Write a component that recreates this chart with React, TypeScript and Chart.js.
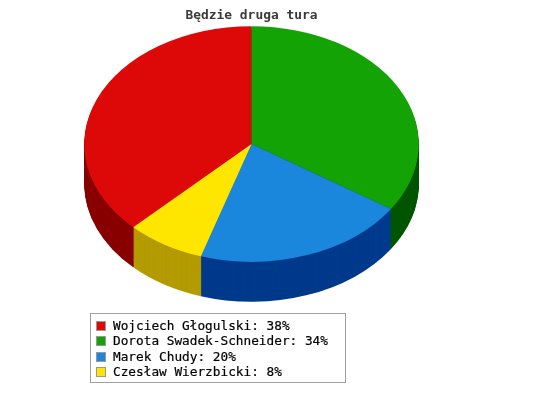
import React, { useEffect, useRef } from 'react';
import { Chart, registerables } from 'chart.js';

Chart.register(...registerables);

const chartTitle = 'Będzie druga tura';
const candidates = ['Wojciech Głogulski', 'Dorota Swadek-Schneider', 'Marek Chudy', 'Czesław Wierzbicki'];
// slice sizes
const shares = [37.5, 34.3, 20.6, 7.6];
// percentages as printed in the legend
const printedPercents = [38, 34, 20, 8];
const topColors = ['#dd0808', '#14a304', '#1a86dc', '#ffe600'];
const sideColors = ['#880000', '#005500', '#003a8c', '#b39b00'];

const FONT = '"DejaVu Sans Mono", monospace';
const SQUASH = 118 / 167.5; // tilt of the pie
const CENTER_Y = 144;
const DEPTH = 40;

// Tilts the pie and extrudes its rim downward, using the arcs Chart.js laid out
const tiltPlugin = {
  id: 'tilt',
  beforeDatasetsDraw(chart: any) {
    const { ctx } = chart;
    const arcs = chart.getDatasetMeta(0).data;
    const cy = arcs[0].y;
    const tilt = (offset: number) => {
      ctx.translate(0, CENTER_Y + offset);
      ctx.scale(1, SQUASH);
      ctx.translate(0, -cy);
    };

    // deepest layer first, so the rim colour wins nearest the top surface
    for (let d = DEPTH; d > 0; d--) {
      arcs.forEach((arc: any, i: number) => {
        ctx.save();
        tilt(d);
        ctx.beginPath();
        ctx.moveTo(arc.x, arc.y);
        ctx.arc(arc.x, arc.y, arc.outerRadius, arc.startAngle, arc.endAngle);
        ctx.closePath();
        ctx.fillStyle = sideColors[i];
        ctx.fill();
        ctx.restore();
      });
    }

    ctx.save();
    tilt(0);
  },
  afterDatasetsDraw(chart: any) {
    chart.ctx.restore();
  },
};

const App: React.FC = () => {
  const chartRef = useRef<HTMLCanvasElement>(null);

  useEffect(() => {
    document.body.style.margin = '0';
    if (!chartRef.current) return;

    const chart = new Chart(chartRef.current, {
      type: 'pie',
      data: {
        labels: candidates,
        datasets: [
          {
            data: shares,
            backgroundColor: topColors,
            borderWidth: 0,
            clip: false,
          } as any,
        ],
      },
      options: {
        responsive: false,
        animation: false,
        rotation: -(shares[0] / 100) * 360,
        layout: { padding: { left: 84, right: 121, top: 0, bottom: 45 } },
        plugins: {
          legend: { display: false },
          tooltip: { enabled: false },
          title: {
            display: true,
            text: chartTitle,
            fullSize: false,
            color: '#3a3a3a',
            font: { family: FONT, size: 12.9, weight: 'bold' },
            padding: { top: 8, bottom: 4 },
          },
        },
      },
      plugins: [tiltPlugin],
    });

    return () => {
      chart.destroy();
    };
  }, []);

  return (
    <div style={{ position: 'absolute', left: 0, top: 0, width: 540, height: 407, background: '#ffffff' }}>
      <canvas ref={chartRef} width={540} height={407} style={{ display: 'block' }} />
      <div
        style={{
          position: 'absolute',
          left: 90,
          top: 313,
          width: 254,
          height: 68,
          border: '1px solid #a0a0a0',
          fontFamily: FONT,
          fontSize: 12.75,
          color: '#000000',
          WebkitTextStroke: '0.2px #000000',
        }}
      >
        {candidates.map((name, i) => (
          <div
            key={name}
            style={{
              position: 'absolute',
              left: 5,
              top: 4 + i * 15.4,
              height: 15,
              lineHeight: '15px',
              whiteSpace: 'nowrap',
            }}
          >
            <span
              style={{
                position: 'absolute',
                left: 0,
                top: 3,
                width: 8,
                height: 8,
                background: topColors[i],
                border: '1px solid #999999',
              }}
            />
            <span style={{ marginLeft: 17 }}>
              {name}: {printedPercents[i]}%
            </span>
          </div>
        ))}
      </div>
    </div>
  );
};

export default App;
